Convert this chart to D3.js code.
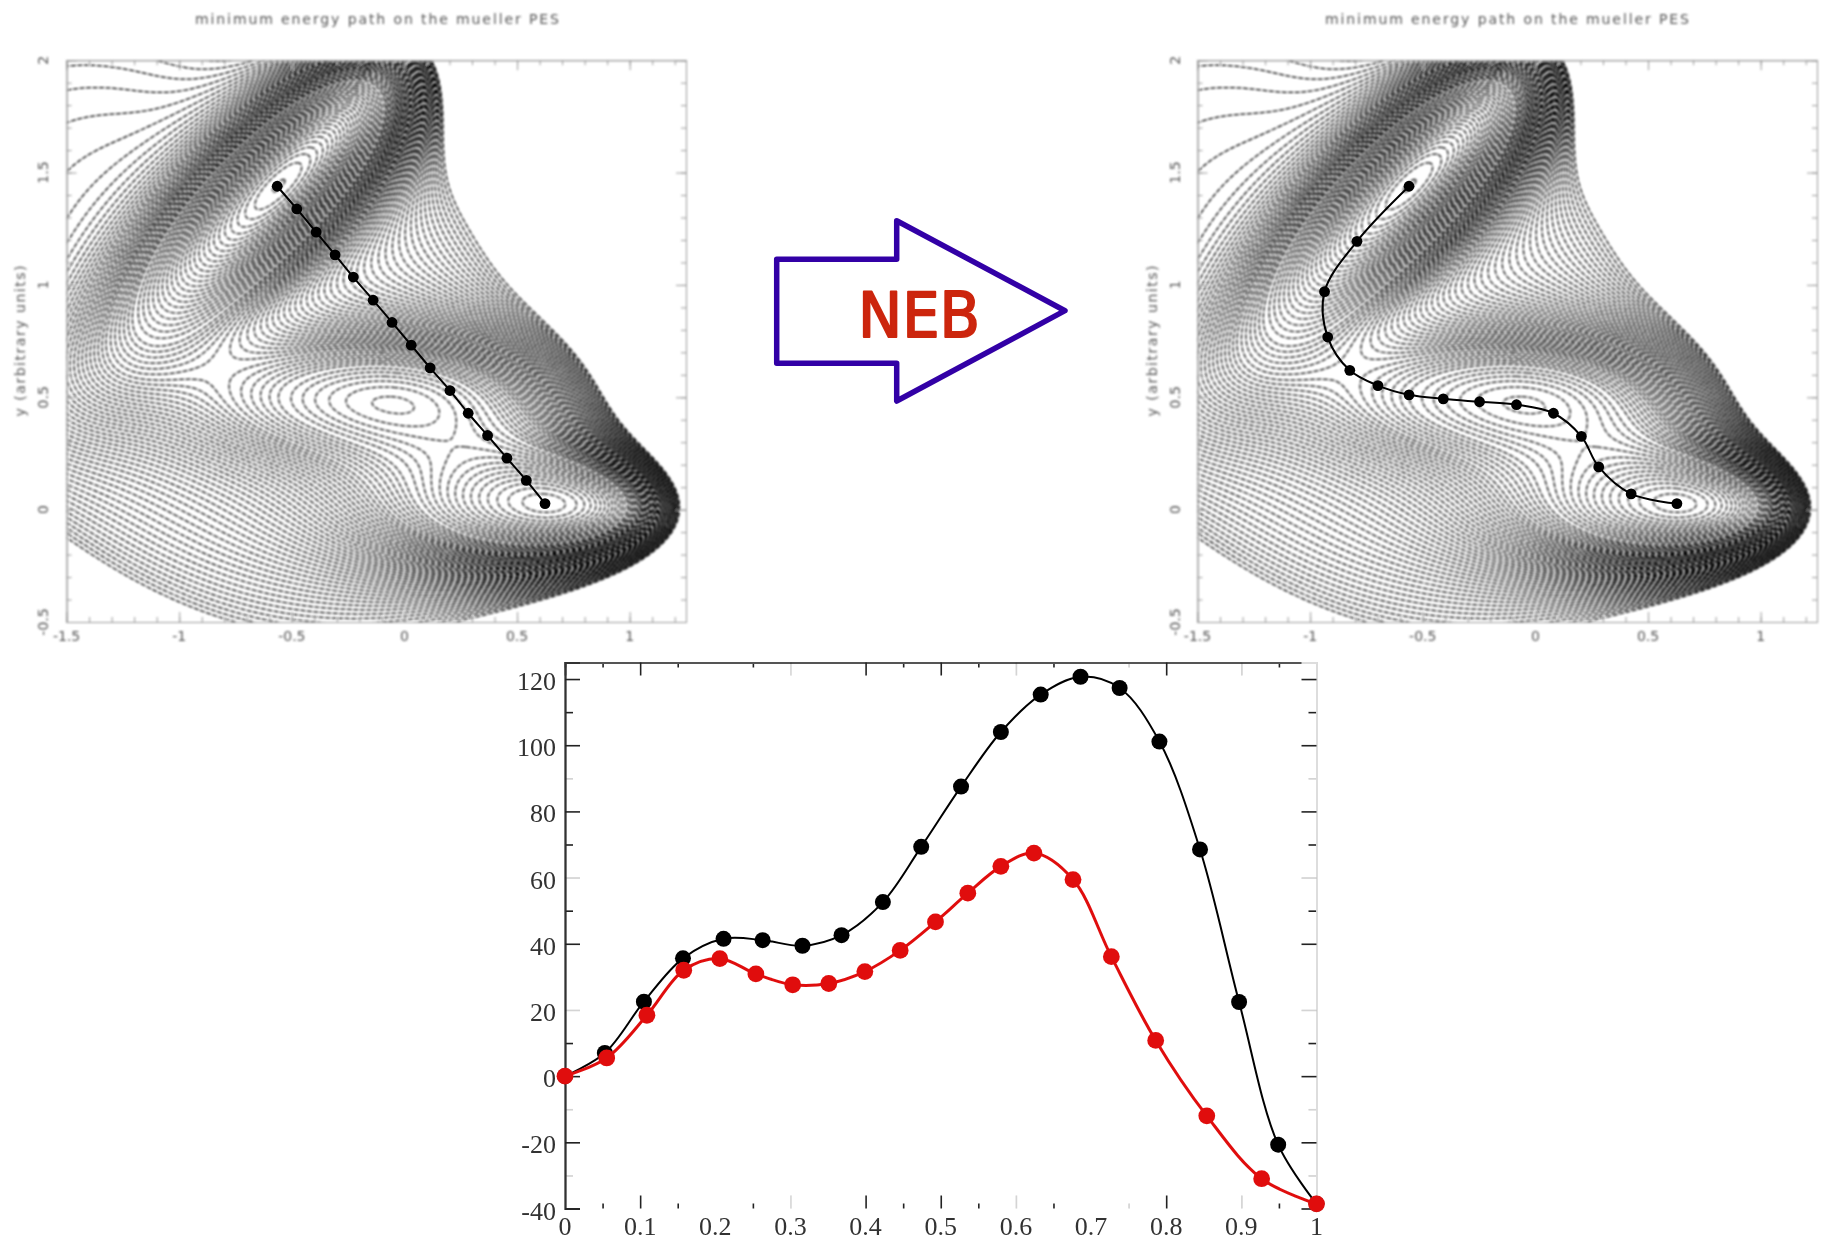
<!DOCTYPE html>
<html>
<head>
<meta charset="utf-8">
<script src="https://cdn.jsdelivr.net/npm/d3@7"></script>
<style>
  body { margin: 0; background: white; }
  svg { display: block; }
</style>
</head>
<body>
<script>
// initial band (straight line)
const startX = [-0.565, -0.478, -0.392, -0.308, -0.227, -0.139, -0.055, 0.030, 0.114, 0.202, 0.283, 0.369, 0.455, 0.541, 0.624];
const startY = [1.439, 1.338, 1.235, 1.134, 1.035, 0.932, 0.833, 0.732, 0.631, 0.530, 0.429, 0.330, 0.229, 0.130, 0.027];

// relaxed band
const nebX = [-0.561, -0.792, -0.936, -0.922, -0.824, -0.699, -0.561, -0.409, -0.248, -0.084, 0.080, 0.204, 0.281, 0.425, 0.628];
const nebY = [1.439, 1.194, 0.970, 0.768, 0.620, 0.552, 0.511, 0.493, 0.480, 0.467, 0.429, 0.326, 0.190, 0.070, 0.027];

// energy profiles in the bottom plot
const blackS = [0, 0.053, 0.105, 0.157, 0.211, 0.263, 0.316, 0.368, 0.423, 0.474, 0.527, 0.580, 0.633, 0.686, 0.738, 0.791, 0.845, 0.897, 0.949, 1];
const blackE = [0, 7, 22.5, 35.6, 41.5, 41.1, 39.4, 42.6, 52.6, 69.3, 87.5, 104, 115.3, 120.7, 117.3, 101.1, 68.5, 22.4, -20.7, -38.6];
const redS = [0, 0.0555, 0.109, 0.158, 0.206, 0.254, 0.303, 0.351, 0.399, 0.446, 0.493, 0.536, 0.580, 0.624, 0.676, 0.727, 0.786, 0.854, 0.927, 1];
const redE = [0, 5.5, 18.4, 32, 35.5, 30.9, 27.6, 28, 31.6, 38, 46.6, 55.3, 63.4, 67.4, 59.4, 36.1, 10.8, -12, -31, -38.6];

// tick labels
const panelXLabels = [-1.5, -1, -0.5, 0, 0.5, 1];
const panelYLabels = [-0.5, 0, 0.5, 1, 1.5, 2];
const plotXLabels = [0, 0.1, 0.2, 0.3, 0.4, 0.5, 0.6, 0.7, 0.8, 0.9, 1];
const plotYLabels = [-40, -20, 0, 20, 40, 60, 80, 100, 120];
const plotXMinor = [0.05, 0.15, 0.25, 0.35, 0.45, 0.55, 0.65, 0.75, 0.85, 0.95];
const plotYMinor = [-30, -10, 10, 30, 50, 70, 90, 110];

// ticks the scan nearly lost
const faintX = [0.3, 0.6, 0.75, 0.9];
const lostX = [0.2, 0.35, 0.7, 0.85];
const faintY = [90, 60, 20, -10, -30];
const lostY = [30];

// Mueller-Brown surface parameters
const muA = [-200, -100, -170, 15];
const muB = [-1, -1, -6.5, 0.7];
const muC = [0, 0, 11, 0.6];
const muD = [-10, -10, -6.5, 0.7];
const muX = [1, 0, -0.5, -1];
const muY = [0, 0.5, 1.5, 1];

// contour levels: wider in the wells, tighter higher up, as counted in the picture
const lowLevels = d3.range(-146.4, -60, 3.7);
const midLevels = d3.range(-57.1, -40, 3);
const highLevels = d3.range(-39.1, 60.5, 2.6);

const titleText = 'minimum energy path on the mueller PES';
const yLabelText = 'y (arbitrary units)';

const width = 1826;
const height = 1242;

const svg = d3.select('body')
  .append('svg')
  .attr('width', width)
  .attr('height', height);

const defs = svg.append('defs');

const addBlur = (id, amount) => {
  defs.append('filter')
    .attr('id', id)
    .attr('x', '-5%')
    .attr('y', '-5%')
    .attr('width', '110%')
    .attr('height', '110%')
    .append('feGaussianBlur')
    .attr('stdDeviation', amount);
};

addBlur('soft', 0.85);
addBlur('softer', 0.5);

// surface on a grid a bit bigger than the frame, so contours get clipped at it
const gridW = 560;
const gridH = 510;
const gx0 = -1.52;
const gx1 = 1.27;
const gy0 = -0.52;
const gy1 = 2.02;
const field = new Float64Array(gridW * gridH);

for (let j = 0; j < gridH; j++) {
  const py = gy0 + (gy1 - gy0) * j / (gridH - 1);
  for (let i = 0; i < gridW; i++) {
    const px = gx0 + (gx1 - gx0) * i / (gridW - 1);
    let v = 0;
    for (let k = 0; k < 4; k++) {
      const dx = px - muX[k];
      const dy = py - muY[k];
      v += muA[k] * Math.exp(muB[k] * dx * dx + muC[k] * dx * dy + muD[k] * dy * dy);
    }
    field[j * gridW + i] = v;
  }
}

const contourSets = d3.contours()
  .size([gridW, gridH])
  .thresholds(lowLevels.concat(midLevels, highLevels))(field);

const drawPanel = (left, right, px, py, title, titleX, labelX, tickLabelX) => {
  const top = 60.2;
  const bottom = 622;
  const x = d3.scaleLinear().domain([-1.5, 1.25]).range([left, right]);
  const y = d3.scaleLinear().domain([-0.5, 2]).range([bottom, top]);
  const clipId = `clip${left}`;

  defs.append('clipPath')
    .attr('id', clipId)
    .append('rect')
    .attr('x', left)
    .attr('y', top)
    .attr('width', right - left)
    .attr('height', bottom - top);

  const g = svg.append('g').attr('filter', 'url(#soft)');

  const toScreen = d3.geoTransform({
    point: function (a, b) {
      const gxv = gx0 + (gx1 - gx0) * (a - 0.5) / (gridW - 1);
      const gyv = gy0 + (gy1 - gy0) * (b - 0.5) / (gridH - 1);
      this.stream.point(x(gxv), y(gyv));
    }
  });
  const path = d3.geoPath(toScreen);

  // short gaps plus the blur give the broken up look of the scan
  g.append('g')
    .attr('clip-path', `url(#${clipId})`)
    .selectAll('path')
    .data(contourSets)
    .join('path')
    .attr('d', path)
    .attr('fill', 'none')
    .attr('stroke', '#000')
    .attr('stroke-width', 1.25)
    .attr('stroke-dasharray', '5 1.5');

  // frame with ticks pointing inwards, labels drawn separately
  const xMinor = d3.range(-15, 13).map((d) => d / 10);
  const yMinor = d3.range(-5, 21).map((d) => d / 10);
  const axes = g.append('g').attr('class', 'frame');

  const addAxis = (axis, tx, ty, values, len) => {
    axes.append('g')
      .attr('transform', `translate(${tx},${ty})`)
      .call(axis.tickValues(values).tickSize(-len).tickFormat(''));
  };

  addAxis(d3.axisBottom(x), 0, bottom, xMinor, 5);
  addAxis(d3.axisBottom(x), 0, bottom, panelXLabels, 10);
  addAxis(d3.axisTop(x), 0, top, xMinor, 5);
  addAxis(d3.axisTop(x), 0, top, panelXLabels, 10);
  addAxis(d3.axisLeft(y), left, 0, yMinor, 5);
  addAxis(d3.axisLeft(y), left, 0, panelYLabels, 10);
  addAxis(d3.axisRight(y), right, 0, yMinor, 5);
  addAxis(d3.axisRight(y), right, 0, panelYLabels, 10);

  axes.selectAll('path, line')
    .attr('stroke', '#999')
    .attr('stroke-width', 1);

  const textColor = '#555';

  g.selectAll('.xlab')
    .data(panelXLabels)
    .join('text')
    .attr('class', 'xlab')
    .attr('x', (d) => x(d))
    .attr('y', bottom + 19)
    .attr('text-anchor', 'middle')
    .attr('font-family', 'DejaVu Sans')
    .attr('font-size', 14)
    .attr('fill', textColor)
    .text((d) => d);

  g.selectAll('.ylab')
    .data(panelYLabels)
    .join('text')
    .attr('class', 'ylab')
    .attr('transform', (d) => `translate(${tickLabelX},${y(d)}) rotate(-90)`)
    .attr('text-anchor', 'middle')
    .attr('font-family', 'DejaVu Sans')
    .attr('font-size', 14)
    .attr('fill', textColor)
    .text((d) => d);

  g.append('text')
    .attr('transform', `translate(${labelX},341) rotate(-90)`)
    .attr('text-anchor', 'middle')
    .attr('font-family', 'DejaVu Sans')
    .attr('font-size', 14)
    .attr('textLength', 151)
    .attr('fill', textColor)
    .text(yLabelText);

  g.append('text')
    .attr('x', titleX)
    .attr('y', 24)
    .attr('text-anchor', 'middle')
    .attr('font-family', 'DejaVu Sans')
    .attr('font-size', 14)
    .attr('textLength', 364)
    .attr('fill', textColor)
    .text(title);

  // the band itself
  const band = px.map((d, i) => ({x: d, y: py[i]}));
  const line = d3.line()
    .x((d) => x(d.x))
    .y((d) => y(d.y))
    .curve(d3.curveCatmullRom);

  const b = svg.append('g').attr('filter', 'url(#softer)');

  b.append('path')
    .attr('d', line(band))
    .attr('fill', 'none')
    .attr('stroke', 'black')
    .attr('stroke-width', 2);

  b.selectAll('circle')
    .data(band)
    .join('circle')
    .attr('cx', (d) => x(d.x))
    .attr('cy', (d) => y(d.y))
    .attr('r', 5.4)
    .attr('fill', 'black');
};

drawPanel(66.6, 686, startX, startY, titleText, 377, 25, 48);
drawPanel(1197.5, 1817, nebX, nebY, titleText, 1507, 1157, 1180);

// NEB arrow
const arrow = svg.append('g').attr('filter', 'url(#softer)');

arrow.append('polygon')
  .attr('points', '776.7,259.3 896.7,259.3 896.7,220.7 1065,310.7 896.7,401 896.7,363.3 776.7,363.3')
  .attr('fill', 'white')
  .attr('stroke', '#3300a6')
  .attr('stroke-width', 5.5)
  .attr('stroke-linejoin', 'round');

arrow.append('text')
  .attr('x', 858)
  .attr('y', 337)
  .attr('font-family', 'DejaVu Sans')
  .attr('font-size', 63)
  .attr('textLength', 122)
  .attr('lengthAdjust', 'spacingAndGlyphs')
  .attr('fill', '#cc2508')
  .attr('stroke', '#cc2508')
  .attr('stroke-width', 2)
  .attr('stroke-linejoin', 'round')
  .text('NEB');

// energy plot
const plotLeft = 565;
const plotRight = 1316.5;
const plotTop = 662.5;
const plotBottom = 1208.5;

const sx = d3.scaleLinear().domain([0, 1]).range([plotLeft, plotRight]);
const sy = d3.scaleLinear().domain([-40, 125]).range([plotBottom, plotTop]);

const plot = svg.append('g').attr('filter', 'url(#softer)');

const tickOpacityX = (d) => lostX.includes(d) ? 0 : faintX.includes(d) ? 0.2 : 1;
const tickOpacityY = (d) => lostY.includes(d) ? 0 : faintY.includes(d) ? 0.2 : 1;

const addPlotAxis = (axis, tx, ty, values, len, opacity, lineColor) => {
  const a = plot.append('g')
    .attr('transform', `translate(${tx},${ty})`)
    .call(axis.tickValues(values).tickSize(-len).tickFormat(''));

  a.select('.domain')
    .attr('stroke', lineColor)
    .attr('stroke-width', 1.8);

  a.selectAll('.tick line')
    .attr('stroke', '#222')
    .attr('stroke-width', 1.6)
    .attr('opacity', opacity);
};

addPlotAxis(d3.axisBottom(sx), 0, plotBottom, plotXMinor, 5, tickOpacityX, 'none');
addPlotAxis(d3.axisBottom(sx), 0, plotBottom, plotXLabels.slice(1, -1), 13, tickOpacityX, 'none');
addPlotAxis(d3.axisTop(sx), 0, plotTop, plotXMinor, 5, tickOpacityX, '#555');
addPlotAxis(d3.axisTop(sx), 0, plotTop, plotXLabels.slice(1, -1), 13, tickOpacityX, '#555');
addPlotAxis(d3.axisLeft(sy), plotLeft, 0, plotYMinor, 8, tickOpacityY, '#333');
addPlotAxis(d3.axisLeft(sy), plotLeft, 0, plotYLabels, 15, tickOpacityY, '#333');
addPlotAxis(d3.axisRight(sy), plotRight, 0, plotYMinor, 8, tickOpacityY, '#ddd');
addPlotAxis(d3.axisRight(sy), plotRight, 0, plotYLabels, 15, tickOpacityY, '#ddd');

plot.selectAll('.plotx')
  .data(plotXLabels)
  .join('text')
  .attr('class', 'plotx')
  .attr('x', (d) => sx(d))
  .attr('y', 1235)
  .attr('text-anchor', 'middle')
  .attr('font-family', 'Liberation Serif')
  .attr('font-size', 26)
  .attr('fill', '#333')
  .text((d) => d);

plot.selectAll('.ploty')
  .data(plotYLabels)
  .join('text')
  .attr('class', 'ploty')
  .attr('x', 556)
  .attr('y', (d) => sy(d) + 11)
  .attr('text-anchor', 'end')
  .attr('font-family', 'Liberation Serif')
  .attr('font-size', 26)
  .attr('fill', '#333')
  .text((d) => d);

const curve = d3.line()
  .x((d) => sx(d.s))
  .y((d) => sy(d.e))
  .curve(d3.curveCatmullRom);

const drawProfile = (ss, es, color, lineWidth, radius) => {
  const rows = ss.map((d, i) => ({s: d, e: es[i]}));

  plot.append('path')
    .attr('d', curve(rows))
    .attr('fill', 'none')
    .attr('stroke', color)
    .attr('stroke-width', lineWidth);

  plot.append('g')
    .selectAll('circle')
    .data(rows)
    .join('circle')
    .attr('cx', (d) => sx(d.s))
    .attr('cy', (d) => sy(d.e))
    .attr('r', radius)
    .attr('fill', color);
};

drawProfile(blackS, blackE, 'black', 2, 8);
drawProfile(redS, redE, '#e01010', 3, 8.4);
</script>
</body>
</html>
